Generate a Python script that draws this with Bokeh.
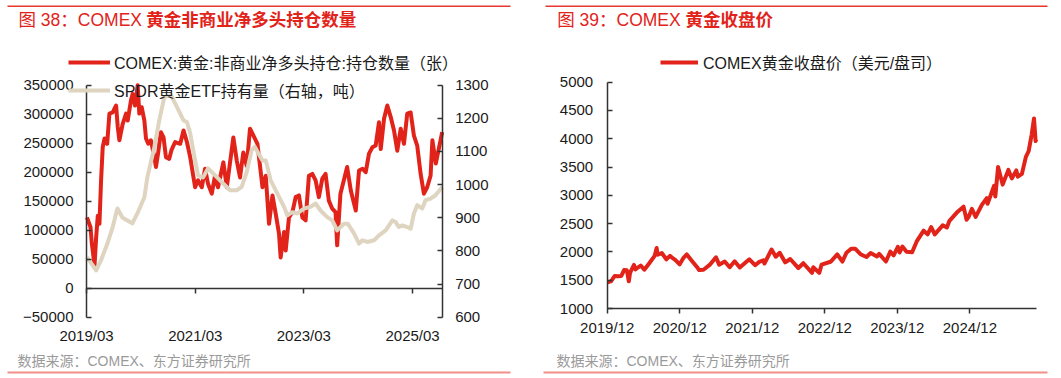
import pandas as pd
from bokeh.plotting import figure
from bokeh.models import (Range1d, LinearAxis, DatetimeAxis, FixedTicker, DatetimeTickFormatter,
                          BasicTickFormatter, CustomJSTickFormatter, Legend, LegendItem, Label,
                          BoxAnnotation)
from bokeh.layouts import row
from bokeh.embed import file_html
from bokeh.resources import INLINE

# ---------------- data ----------------
title1_a = "图 38：COMEX"
title1_b = "黄金非商业净多头持仓数量"
title2_a = "图 39：COMEX"
title2_b = "黄金收盘价"
source_text = "数据来源：COMEX、东方证券研究所"

net_long_name = "COMEX:黄金:非商业净多头持仓:持仓数量（张）"
spdr_name = "SPDR黄金ETF持有量（右轴，吨）"
price_name = "COMEX黄金收盘价（美元/盘司）"

net_long_dates = ["2019-03-04", "2019-03-28", "2019-04-06", "2019-04-24", "2019-05-05", "2019-05-16",
                  "2019-05-27", "2019-06-07", "2019-06-18", "2019-06-30", "2019-07-18", "2019-08-02",
                  "2019-08-24", "2019-09-16", "2019-09-27", "2019-10-08", "2019-10-30", "2019-11-22",
                  "2019-12-03", "2019-12-25", "2020-01-05", "2020-01-21", "2020-02-08", "2020-02-19",
                  "2020-03-06", "2020-03-24", "2020-04-04", "2020-04-19", "2020-05-07", "2020-05-30",
                  "2020-06-10", "2020-06-25", "2020-07-13", "2020-07-31", "2020-08-16", "2020-09-07",
                  "2020-09-22", "2020-10-17", "2020-11-20", "2020-12-12", "2021-01-04", "2021-01-26",
                  "2021-02-28", "2021-03-20", "2021-04-14", "2021-05-06", "2021-05-26", "2021-06-20",
                  "2021-07-12", "2021-08-01", "2021-09-06", "2021-09-29", "2021-11-12", "2021-12-05",
                  "2021-12-27", "2022-01-18", "2022-02-10", "2022-03-04", "2022-04-06", "2022-04-23",
                  "2022-05-27", "2022-06-18", "2022-07-10", "2022-08-02", "2022-08-24", "2022-09-15",
                  "2022-09-26", "2022-10-19", "2022-10-30", "2022-11-21", "2022-12-14", "2023-01-05",
                  "2023-01-27", "2023-02-19", "2023-03-13", "2023-04-04", "2023-04-27", "2023-05-19",
                  "2023-06-10", "2023-07-03", "2023-07-25", "2023-08-16", "2023-09-08", "2023-09-30",
                  "2023-10-11", "2023-11-02", "2023-11-25", "2023-12-17", "2024-01-11", "2024-02-13",
                  "2024-03-06", "2024-03-29", "2024-04-20", "2024-05-12", "2024-06-04", "2024-06-26",
                  "2024-07-18", "2024-07-30", "2024-08-21", "2024-09-12", "2024-10-05", "2024-10-27",
                  "2024-11-18", "2024-12-11", "2025-01-02", "2025-01-24", "2025-02-16", "2025-03-10",
                  "2025-04-01", "2025-04-24", "2025-05-16", "2025-06-07", "2025-06-30", "2025-07-12",
                  "2025-08-04", "2025-09-16"]
net_long_values = [122000, 105000, 77000, 39000, 88000, 125000, 111000, 186000, 243000, 258000, 249000,
                   301000, 303000, 315000, 278000, 255000, 283000, 301000, 289000, 324000, 335000, 315000,
                   350000, 301000, 312000, 289000, 258000, 249000, 255000, 226000, 209000, 234000, 269000,
                   260000, 226000, 223000, 238000, 252000, 249000, 272000, 252000, 226000, 174000, 186000,
                   174000, 206000, 180000, 163000, 194000, 174000, 217000, 174000, 260000, 220000, 191000,
                   234000, 211000, 275000, 258000, 249000, 174000, 194000, 111000, 160000, 128000, 94000,
                   53000, 97000, 65000, 122000, 131000, 157000, 160000, 122000, 117000, 194000, 197000,
                   186000, 157000, 189000, 197000, 151000, 137000, 131000, 74000, 163000, 186000, 209000,
                   168000, 134000, 203000, 206000, 200000, 232000, 243000, 246000, 286000, 240000, 292000,
                   315000, 295000, 272000, 237000, 275000, 249000, 301000, 303000, 263000, 246000, 197000,
                   163000, 174000, 194000, 255000, 215000, 269000]

spdr_dates = ["2019-03-04", "2019-05-05", "2019-06-07", "2019-07-20", "2019-08-24", "2019-09-16",
              "2019-09-25", "2019-10-28", "2019-12-01", "2020-01-03", "2020-02-06", "2020-03-24",
              "2020-04-13", "2020-05-30", "2020-07-02", "2020-08-05", "2020-09-18", "2020-10-17",
              "2020-12-12", "2021-01-04", "2021-01-26", "2021-02-28", "2021-03-20", "2021-04-23",
              "2021-05-26", "2021-07-12", "2021-09-04", "2021-10-21", "2021-12-05", "2022-01-07",
              "2022-02-10", "2022-03-15", "2022-04-06", "2022-05-06", "2022-05-27", "2022-06-18",
              "2022-07-21", "2022-09-04", "2022-10-19", "2022-11-10", "2022-12-14", "2023-01-16",
              "2023-03-02", "2023-04-15", "2023-05-19", "2023-06-21", "2023-08-05", "2023-09-08",
              "2023-10-11", "2023-11-02", "2023-11-25", "2023-12-22", "2024-02-02", "2024-03-06",
              "2024-03-29", "2024-05-01", "2024-06-15", "2024-07-18", "2024-09-01", "2024-10-16",
              "2024-11-07", "2024-11-29", "2024-12-22", "2025-01-24", "2025-02-16", "2025-03-10",
              "2025-04-01", "2025-05-05", "2025-05-27", "2025-06-30", "2025-08-02", "2025-09-16"]
spdr_values = [781, 741, 772, 823, 872, 913, 928, 901, 892, 883, 913, 962, 1022, 1113, 1194, 1264, 1270,
               1245, 1194, 1189, 1155, 1073, 1028, 1022, 1049, 1028, 1004, 983, 983, 993, 1038, 1104, 1114,
               1089, 1073, 1073, 1013, 973, 933, 907, 917, 913, 928, 933, 943, 922, 902, 892, 862, 872, 882,
               882, 852, 822, 832, 827, 832, 847, 862, 892, 887, 872, 877, 872, 867, 913, 938, 928, 953,
               958, 968, 993]

price_dates = ["2019-12-02", "2019-12-20", "2020-01-08", "2020-01-28", "2020-02-10", "2020-02-24",
               "2020-03-09", "2020-03-19", "2020-03-25", "2020-04-14", "2020-04-21", "2020-05-18",
               "2020-06-05", "2020-06-30", "2020-07-27", "2020-08-06", "2020-08-11", "2020-09-01",
               "2020-09-24", "2020-10-12", "2020-10-30", "2020-11-09", "2020-11-30", "2020-12-18",
               "2021-01-05", "2021-01-29", "2021-02-26", "2021-03-08", "2021-03-30", "2021-04-30",
               "2021-06-01", "2021-06-17", "2021-07-15", "2021-08-09", "2021-09-03", "2021-09-29",
               "2021-10-25", "2021-11-16", "2021-12-15", "2022-01-05", "2022-01-25", "2022-01-31",
               "2022-03-08", "2022-03-29", "2022-04-18", "2022-05-16", "2022-06-10", "2022-07-21",
               "2022-08-15", "2022-09-28", "2022-10-04", "2022-11-03", "2022-11-15", "2022-12-30",
               "2023-02-02", "2023-02-28", "2023-03-20", "2023-04-13", "2023-05-04", "2023-05-30",
               "2023-06-29", "2023-07-20", "2023-08-21", "2023-09-01", "2023-10-05", "2023-10-27",
               "2023-11-13", "2023-12-04", "2023-12-13", "2023-12-27", "2024-01-17", "2024-02-14",
               "2024-03-08", "2024-04-12", "2024-05-02", "2024-05-20", "2024-06-07", "2024-07-17",
               "2024-08-07", "2024-08-20", "2024-09-26", "2024-10-30", "2024-11-14", "2024-11-25",
               "2024-12-11", "2024-12-30", "2025-01-31", "2025-02-24", "2025-02-28", "2025-04-02",
               "2025-04-08", "2025-04-22", "2025-05-15", "2025-06-13", "2025-06-30", "2025-07-23",
               "2025-07-30", "2025-08-20", "2025-09-09", "2025-09-23", "2025-10-08", "2025-10-20",
               "2025-10-28", "2025-10-31"]
price_values = [1465, 1480, 1575, 1570, 1575, 1680, 1675, 1480, 1630, 1770, 1690, 1760, 1685, 1800, 1930,
                2070, 1950, 1980, 1870, 1930, 1880, 1855, 1780, 1890, 1955, 1850, 1730, 1680, 1685, 1770,
                1905, 1775, 1830, 1730, 1835, 1725, 1805, 1870, 1765, 1825, 1850, 1795, 2043, 1915, 1985,
                1815, 1875, 1715, 1800, 1630, 1730, 1630, 1775, 1826, 1955, 1830, 1985, 2055, 2055, 1960,
                1910, 1980, 1920, 1965, 1830, 2005, 1940, 2090, 1990, 2095, 2005, 1995, 2185, 2375, 2310,
                2440, 2310, 2470, 2430, 2550, 2695, 2800, 2570, 2620, 2760, 2620, 2835, 2950, 2850, 3170,
                2980, 3500, 3190, 3450, 3300, 3440, 3330, 3380, 3680, 3780, 4070, 4360, 3960, 3990]

left_ticks = [-50000, 0, 50000, 100000, 150000, 200000, 250000, 300000, 350000]
right_ticks = [600, 700, 800, 900, 1000, 1100, 1200, 1300]
x1_tick_dates = ["2019-03-01", "2021-03-01", "2023-03-01", "2025-03-01"]
price_ticks = [1000, 1500, 2000, 2500, 3000, 3500, 4000, 4500, 5000]
x2_tick_dates = ["2019-12-01", "2020-12-01", "2021-12-01", "2022-12-01", "2023-12-01", "2024-12-01"]

# ---------------- style ----------------
FONT = "'Liberation Sans', 'Noto Sans CJK SC'"
RED = "#e2231a"
BEIGE = "#ded4bf"
AXIS = "#333333"
TXT = "#1a1a1a"
GRAY = "#9a9a9a"
TOPLINE = "#e5392f"
BOTLINE = "#f19088"
H = 378


def ms(d):
    return pd.Timestamp(d).value / 1e6


def fmt_dates():
    f = "%Y/%m"
    return DatetimeTickFormatter(years=f, months=f, days=f, hours=f, minutes=f, seconds=f,
                                 milliseconds=f, microseconds=f)


def style_axis(ax):
    ax.axis_line_color = AXIS
    ax.axis_line_width = 1.5
    ax.major_tick_line_color = AXIS
    ax.major_tick_line_width = 1.5
    ax.minor_tick_line_color = None
    ax.major_label_text_font = FONT
    ax.major_label_text_font_size = "15px"
    ax.major_label_text_color = TXT


class Frame:
    """Maps canvas pixels (from top-left) onto the chart's own data ranges."""

    def __init__(self, w, t0, t1, px0, px1, v0, v1, py0, py1):
        self.w = w
        per_x = (t1 - t0) / (px1 - px0)
        self.xs = t0 - px0 * per_x
        self.xe = t1 + (w - px1) * per_x
        self.per_x = per_x
        per_y = (v1 - v0) / (py0 - py1)
        self.ys = v0 - (H - py0) * per_y
        self.ye = v1 + py1 * per_y
        self.per_y = per_y

    def x(self, px):
        return self.xs + px * self.per_x

    def y(self, py):
        return self.ye - py * self.per_y

    def other_range(self, v0, v1, py0, py1):
        per = (v1 - v0) / (py0 - py1)
        return Range1d(v0 - (H - py0) * per, v1 + py1 * per)


def make_fig(fr):
    p = figure(width=fr.w, height=H, x_axis_type="datetime",
               x_range=Range1d(fr.xs, fr.xe), y_range=Range1d(fr.ys, fr.ye),
               toolbar_location=None, output_backend="svg", min_border=0)
    p.outline_line_color = None
    p.xgrid.visible = False
    p.ygrid.visible = False
    return p


def decorate(p, fr, ta, tb, title_x, tb_x, line_l, line_r, src_x, bot_l):
    p.add_layout(BoxAnnotation(left=fr.x(line_l), right=fr.x(line_r), top=fr.y(5), bottom=fr.y(6.5),
                               fill_color=TOPLINE, fill_alpha=1, line_color=None))
    p.add_layout(BoxAnnotation(left=fr.x(bot_l), right=fr.x(line_r), top=fr.y(371), bottom=fr.y(373),
                               fill_color=BOTLINE, fill_alpha=1, line_color=None))
    p.add_layout(Label(x=fr.x(title_x), y=fr.y(19.5), text=ta, text_font=FONT,
                       text_font_size="17.5px", text_color=RED,
                       text_baseline="middle", text_align="left"))
    p.add_layout(Label(x=fr.x(tb_x), y=fr.y(19.5), text=tb, text_font=FONT,
                       text_font_size="17.5px", text_color=RED, text_font_style="bold",
                       text_baseline="middle", text_align="left"))
    p.add_layout(Label(x=fr.x(src_x), y=fr.y(360.5), text=source_text, text_font=FONT,
                       text_font_size="14px", text_color=GRAY,
                       text_baseline="middle", text_align="left"))


# ---------------- left chart ----------------
nl_x = pd.to_datetime(net_long_dates)
sp_x = pd.to_datetime(spdr_dates)
t0 = ms(x1_tick_dates[0])
t1 = ms(net_long_dates[-1])
fr1 = Frame(530, t0, t1, 86, 441.7, left_ticks[0], left_ticks[-1], 316.7, 84.7)
p1 = make_fig(fr1)
p1.extra_y_ranges = {"r": fr1.other_range(right_ticks[0], right_ticks[-1], 316.7, 84.7)}

yl = p1.yaxis[0]
style_axis(yl)
yl.ticker = FixedTicker(ticks=left_ticks)
yl.formatter = BasicTickFormatter(use_scientific=False)
yl.fixed_location = t0
yl.bounds = (left_ticks[0], left_ticks[-1])
yl.major_tick_in = 5
yl.major_tick_out = 0
yl.major_label_standoff = 13

yr = LinearAxis(y_range_name="r", ticker=FixedTicker(ticks=right_ticks))
style_axis(yr)
yr.fixed_location = t1
yr.bounds = (right_ticks[0], right_ticks[-1])
yr.major_tick_in = 5
yr.major_tick_out = 0
yr.major_label_standoff = 13
p1.add_layout(yr, "right")

xb = p1.xaxis[0]
style_axis(xb)
xb.ticker = FixedTicker(ticks=[ms(d) for d in x1_tick_dates])
xb.formatter = fmt_dates()
xb.fixed_location = left_ticks[0]
xb.axis_line_color = None
xb.major_tick_line_color = None
xb.major_tick_in = 0
xb.major_tick_out = 0
xb.major_label_standoff = 10

xz = DatetimeAxis(ticker=FixedTicker(ticks=[ms(d) for d in x1_tick_dates]), fixed_location=0,
                  formatter=CustomJSTickFormatter(code="return ''"))
style_axis(xz)
xz.bounds = (t0, t1)
xz.major_label_text_font_size = "1px"
xz.major_tick_in = 0
xz.major_tick_out = 5
xz.major_label_standoff = 0
p1.add_layout(xz, "below")

r1 = p1.line(nl_x, net_long_values, line_color=RED, line_width=4, line_join="round")
r2 = p1.line(sp_x, spdr_values, y_range_name="r", line_color=BEIGE, line_width=4, line_join="round")

leg1 = Legend(items=[LegendItem(label=net_long_name, renderers=[r1]),
                     LegendItem(label=spdr_name, renderers=[r2])],
              location=(68, H - 48 - 56), glyph_width=42, glyph_height=28, label_height=28,
              spacing=0, padding=0, margin=0, label_standoff=4,
              background_fill_alpha=0, border_line_color=None,
              label_text_font=FONT, label_text_font_size="16px", label_text_color=TXT)
p1.add_layout(leg1, "center")
decorate(p1, fr1, title1_a, title1_b, 18, 145.7, 7, 510, 17, 7)

# ---------------- right chart ----------------
pr_x = pd.to_datetime(price_dates)
u0 = ms(x2_tick_dates[0])
u1 = ms(price_dates[-1])
fr2 = Frame(531, u0, u1, 76.7, 505.7, price_ticks[0], price_ticks[-1], 308, 81.7)
p2 = make_fig(fr2)

y2 = p2.yaxis[0]
style_axis(y2)
y2.ticker = FixedTicker(ticks=price_ticks)
y2.formatter = BasicTickFormatter(use_scientific=False)
y2.fixed_location = u0
y2.bounds = (price_ticks[0], price_ticks[-1])
y2.major_tick_in = 5
y2.major_tick_out = 0
y2.major_label_standoff = 14

x2 = p2.xaxis[0]
style_axis(x2)
x2.ticker = FixedTicker(ticks=[ms(d) for d in x2_tick_dates])
x2.formatter = fmt_dates()
x2.fixed_location = price_ticks[0]
x2.bounds = (u0, u1)
x2.major_tick_in = 0
x2.major_tick_out = 5
x2.major_label_standoff = 5

r3 = p2.line(pr_x, price_values, line_color=RED, line_width=4, line_join="round")
leg2 = Legend(items=[LegendItem(label=price_name, renderers=[r3])],
              location=(130, H - 48 - 28), glyph_width=38, glyph_height=28, label_height=28,
              spacing=0, padding=0, margin=0, label_standoff=5,
              background_fill_alpha=0, border_line_color=None,
              label_text_font=FONT, label_text_font_size="16px", label_text_color=TXT)
p2.add_layout(leg2, "center")
decorate(p2, fr2, title2_a, title2_b, 26.7, 155, 15, 517, 26, 13)

layout = row(p1, p2)
open("out.html", "w").write(file_html(layout, INLINE))
